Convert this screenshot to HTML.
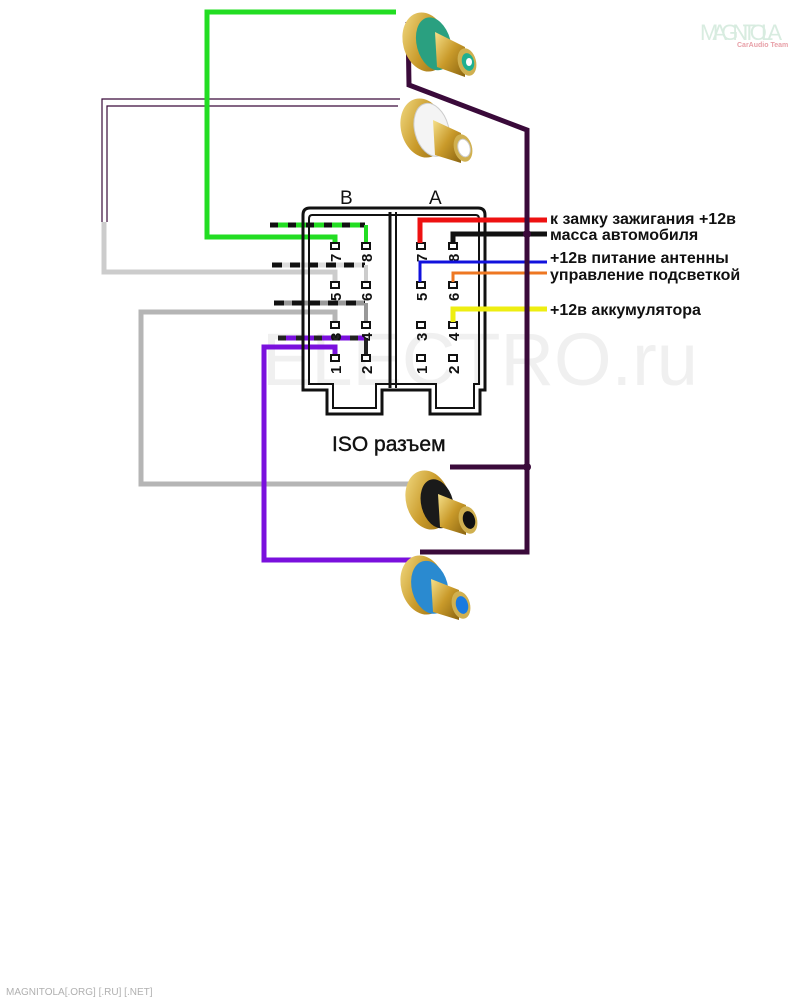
<!DOCTYPE html>
<html><head><meta charset="utf-8"><style>
html,body{margin:0;padding:0;background:#fff;}
svg{display:block;}
text{font-family:"Liberation Sans","DejaVu Sans",sans-serif;}
</style></head><body>
<svg width="801" height="1000" viewBox="0 0 801 1000" xmlns="http://www.w3.org/2000/svg">
<defs>
<linearGradient id="gold" x1="0" y1="0" x2="1" y2="1">
<stop offset="0" stop-color="#f5e08a"/><stop offset="0.5" stop-color="#c99a2a"/><stop offset="1" stop-color="#8a6410"/>
</linearGradient>
</defs>

<!-- watermark -->
<text x="262" y="385" font-size="74" fill="#f0f0f0">ELECTRO.ru</text>

<!-- logo -->
<text x="700" y="40" font-size="22" fill="#d8ece0" font-family="Liberation Sans Narrow, Liberation Sans, sans-serif" textLength="82">MAGNITOLA</text>
<text x="737" y="47" font-size="7" fill="#e8a0a8" font-weight="bold">CarAudio Team</text>
<text x="6" y="995" font-size="10" fill="#b0b0b0" font-family="Liberation Mono, monospace">MAGNITOLA[.ORG] [.RU] [.NET]</text>

<!-- thin purple double lines -->
<polyline points="400,99 102,99 102,222" fill="none" stroke="#3a0a3a" stroke-width="1.2"/>
<polyline points="398,106 107,106 107,222" fill="none" stroke="#3a0a3a" stroke-width="1.2"/>

<!-- green wire -->
<polyline points="396,12 207,12 207,237 335,237 335,244" fill="none" stroke="#22dd22" stroke-width="5"/>
<line x1="270" y1="225" x2="365" y2="225" stroke="#22dd22" stroke-width="5"/>
<line x1="270" y1="225" x2="365" y2="225" stroke="#111" stroke-width="5" stroke-dasharray="8,10"/>
<line x1="366" y1="225" x2="366" y2="244" stroke="#22dd22" stroke-width="4"/>

<!-- light gray wire -->
<polyline points="104,222 104,272 335,272 335,282" fill="none" stroke="#cccccc" stroke-width="5"/>
<line x1="272" y1="265" x2="365" y2="265" stroke="#ddd" stroke-width="5"/>
<line x1="272" y1="265" x2="365" y2="265" stroke="#111" stroke-width="5" stroke-dasharray="10,8"/>
<line x1="366" y1="265" x2="366" y2="282" stroke="#ccc" stroke-width="4"/>

<!-- dark gray wire -->
<polyline points="410,484 141,484 141,312 335,312 335,322" fill="none" stroke="#b5b5b5" stroke-width="5"/>
<line x1="274" y1="303" x2="365" y2="303" stroke="#999" stroke-width="5"/>
<line x1="274" y1="303" x2="365" y2="303" stroke="#111" stroke-width="5" stroke-dasharray="10,8"/>
<line x1="366" y1="303" x2="366" y2="322" stroke="#999" stroke-width="4"/>

<!-- purple wire -->
<polyline points="420,560 264,560 264,347 335,347 335,356" fill="none" stroke="#7a10dd" stroke-width="5"/>
<line x1="278" y1="338" x2="365" y2="338" stroke="#7a10dd" stroke-width="5"/>
<line x1="278" y1="338" x2="365" y2="338" stroke="#222" stroke-width="5" stroke-dasharray="8,10"/>
<line x1="366" y1="338" x2="366" y2="356" stroke="#222" stroke-width="4"/>

<!-- connector outline -->
<g fill="none" stroke="#111" stroke-width="3">
<path d="M310,208 H478 Q485,208 485,215 V390 H480 V414 H430 V390 H382 V414 H327 V390 H303 V215 Q303,208 310,208 Z"/>
<path d="M312,215 H476 Q479,215 479,219 V384 H474 V408 H436 V384 H376 V408 H333 V384 H309 V219 Q309,215 312,215 Z" stroke-width="2"/>
<line x1="390" y1="212" x2="390" y2="388"/>
<line x1="396" y1="212" x2="396" y2="388" stroke-width="2"/>
</g>
<text x="340" y="204" font-size="19" fill="#111">B</text>
<text x="429" y="204" font-size="19" fill="#111">A</text>
<text x="332" y="451" font-size="21" fill="#111" stroke="#111" stroke-width="0.4">ISO разъем</text>

<g fill="#fff" stroke="#111" stroke-width="2">
<rect x="331" y="243" width="8" height="6"/><rect x="362" y="243" width="8" height="6"/>
<rect x="331" y="282" width="8" height="6"/><rect x="362" y="282" width="8" height="6"/>
<rect x="331" y="322" width="8" height="6"/><rect x="362" y="322" width="8" height="6"/>
<rect x="331" y="355" width="8" height="6"/><rect x="362" y="355" width="8" height="6"/>
<rect x="417" y="243" width="8" height="6"/><rect x="449" y="243" width="8" height="6"/>
<rect x="417" y="282" width="8" height="6"/><rect x="449" y="282" width="8" height="6"/>
<rect x="417" y="322" width="8" height="6"/><rect x="449" y="322" width="8" height="6"/>
<rect x="417" y="355" width="8" height="6"/><rect x="449" y="355" width="8" height="6"/>
</g>
<g font-size="15" font-weight="bold" fill="#111">
<text transform="translate(341,262) rotate(-90)">7</text><text transform="translate(372,262) rotate(-90)">8</text>
<text transform="translate(341,301) rotate(-90)">5</text><text transform="translate(372,301) rotate(-90)">6</text>
<text transform="translate(341,341) rotate(-90)">3</text><text transform="translate(372,341) rotate(-90)">4</text>
<text transform="translate(341,374) rotate(-90)">1</text><text transform="translate(372,374) rotate(-90)">2</text>
<text transform="translate(427,262) rotate(-90)">7</text><text transform="translate(459,262) rotate(-90)">8</text>
<text transform="translate(427,301) rotate(-90)">5</text><text transform="translate(459,301) rotate(-90)">6</text>
<text transform="translate(427,341) rotate(-90)">3</text><text transform="translate(459,341) rotate(-90)">4</text>
<text transform="translate(427,374) rotate(-90)">1</text><text transform="translate(459,374) rotate(-90)">2</text>
</g>

<!-- right colored wires -->
<polyline points="420,243 420,220 547,220" fill="none" stroke="#ee1111" stroke-width="5"/>
<polyline points="453,243 453,234 547,234" fill="none" stroke="#111" stroke-width="5"/>
<polyline points="420,282 420,262 547,262" fill="none" stroke="#1111dd" stroke-width="3"/>
<polyline points="453,282 453,273 547,273" fill="none" stroke="#ee7722" stroke-width="3"/>
<polyline points="453,322 453,309 547,309" fill="none" stroke="#eeee11" stroke-width="5"/>

<!-- dark purple ground wire -->
<polyline points="408,22 409,85 527,130 527,552 420,552" fill="none" stroke="#3a0a3a" stroke-width="5"/>
<line x1="527" y1="467" x2="450" y2="467" stroke="#3a0a3a" stroke-width="5"/>
<circle cx="527" cy="467" r="4" fill="#3a0a3a"/>
<circle cx="527" cy="234" r="4" fill="#3a0a3a"/>

<g font-size="16" font-weight="bold" fill="#111">
<text x="550" y="224">к замку зажигания +12в</text>
<text x="550" y="240">масса автомобиля</text>
<text x="550" y="263">+12в питание антенны</text>
<text x="550" y="280">управление подсветкой</text>
<text x="550" y="315">+12в аккумулятора</text>
</g>

<!-- RCA jacks -->
<g transform="translate(425,42)">
<ellipse cx="0" cy="0" rx="22" ry="30" transform="rotate(-15)" fill="url(#gold)"/>
<ellipse cx="8" cy="4" rx="17" ry="27" transform="rotate(-15)" fill="#2aa080"/>
<polygon points="10,-10 40,5 40,35 12,25" fill="url(#gold)"/>
<ellipse cx="42" cy="20" rx="9" ry="14" transform="rotate(-15 42 20)" fill="#d0b050"/>
<ellipse cx="43" cy="20" rx="6" ry="9" transform="rotate(-15 43 20)" fill="#20b090"/>
<ellipse cx="44" cy="20" rx="3" ry="4" fill="#fff"/>
</g>
<g transform="translate(423,128)">
<ellipse cx="0" cy="0" rx="22" ry="30" transform="rotate(-15)" fill="url(#gold)"/>
<ellipse cx="8" cy="4" rx="17" ry="27" transform="rotate(-15)" fill="#f4f4f4" stroke="#ccc"/>
<polygon points="10,-8 38,5 38,35 12,27" fill="url(#gold)"/>
<ellipse cx="40" cy="20" rx="9" ry="14" transform="rotate(-15 40 20)" fill="#d0b050"/>
<ellipse cx="41" cy="20" rx="6" ry="9" transform="rotate(-15 41 20)" fill="#fff" stroke="#ccc"/>
</g>
<g transform="translate(428,500)">
<ellipse cx="0" cy="0" rx="22" ry="30" transform="rotate(-15)" fill="url(#gold)"/>
<ellipse cx="8" cy="6" rx="16" ry="25" transform="rotate(-15)" fill="#1a1a1a"/>
<polygon points="10,-6 38,5 38,35 12,27" fill="url(#gold)"/>
<ellipse cx="40" cy="20" rx="9" ry="14" transform="rotate(-15 40 20)" fill="#d0b050"/>
<ellipse cx="41" cy="20" rx="6" ry="9" transform="rotate(-15 41 20)" fill="#111"/>
</g>
<g transform="translate(423,585)">
<ellipse cx="0" cy="0" rx="22" ry="30" transform="rotate(-15)" fill="url(#gold)"/>
<ellipse cx="6" cy="4" rx="18" ry="27" transform="rotate(-15)" fill="#2a8ad0"/>
<polygon points="8,-6 36,5 36,35 10,27" fill="url(#gold)"/>
<ellipse cx="38" cy="20" rx="9" ry="14" transform="rotate(-15 38 20)" fill="#d0b050"/>
<ellipse cx="39" cy="20" rx="6" ry="9" transform="rotate(-15 39 20)" fill="#1a7ae0"/>
</g>
</svg>
</body></html>
